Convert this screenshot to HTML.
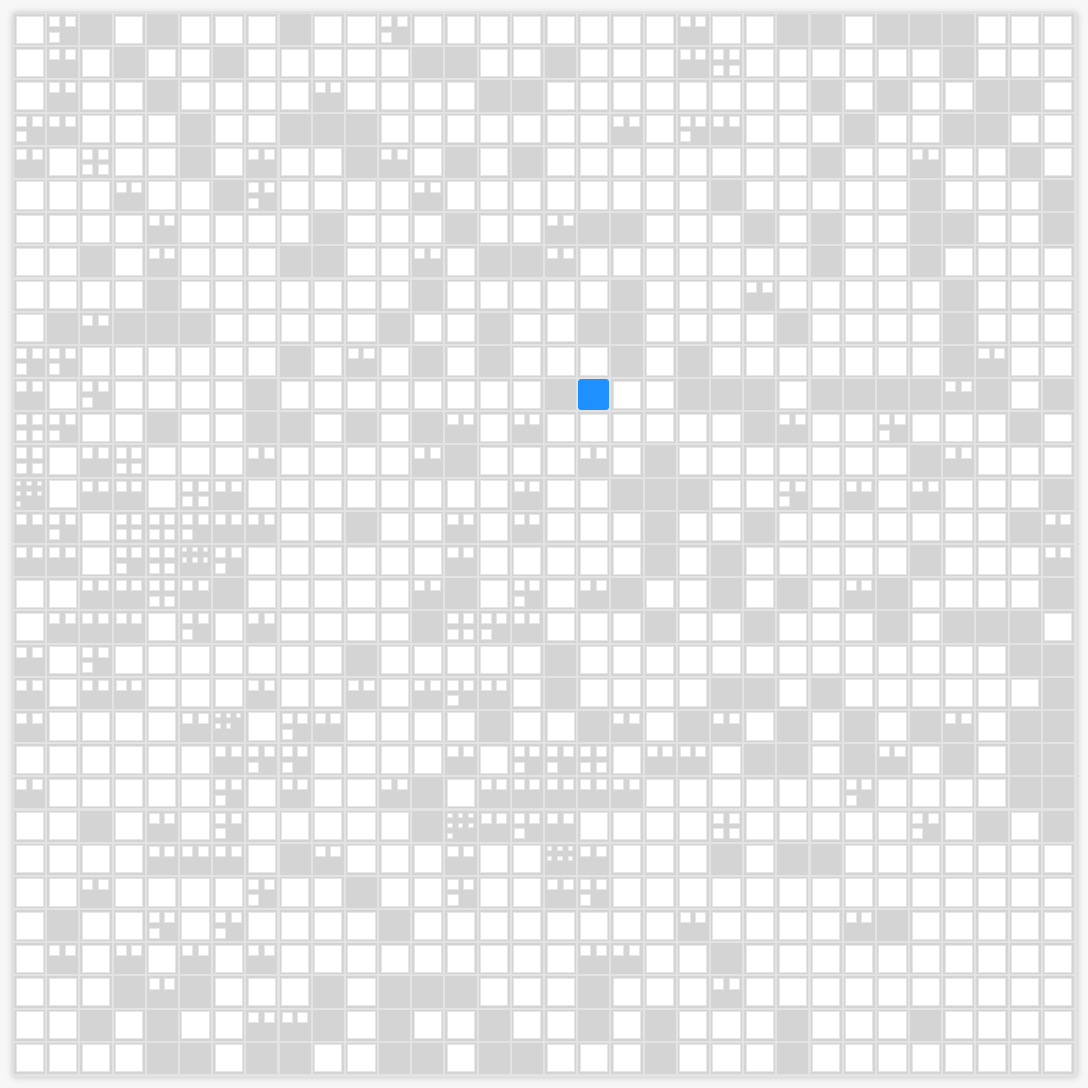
<!DOCTYPE html>
<html><head><meta charset="utf-8"><title>Grid</title>
<style>
html,body{margin:0;padding:0;background:#f7f7f7;width:1088px;height:1088px;overflow:hidden;font-family:"Liberation Sans",sans-serif}
#grid{position:absolute;left:13px;top:13px;width:1064px;height:1064px;background:#e3e3e3;box-shadow:0 0 7px rgba(0,0,0,0.22)}
.cell{position:absolute;background:#d4d4d4;box-sizing:border-box}
.w{position:absolute;background:#fff;box-sizing:border-box;border:1px solid #e6e6e6}
.blue{background:#1e90ff;border-radius:3px}
</style></head>
<body>
<div id="grid"></div>
<script>
const rows = [
"WbGWGWWWGWWbWWWWWWWWaWWGGWGGGWWW",
"WaWGWWGWWWWWGGWWGWWWacWWWWWWGWWW",
"WaWWGWWWWaWWWWGGWWWWWWWWGWGWWGGW",
"baWWWGWWGGGWWWWWWWaWbaWWWGWWGGWW",
"aWcWWGWaWWGaWGWGWWWWWWWWGWWaWWGW",
"WWWaWWGbWWWWaWWWWWWWWGWWWWWGWWWG",
"WWWWaWWWWGWWWGWWaGGWWWGWGWWGGWWG",
"WWGWaWWWGGWWaWGGaWWWWWWWGWWGWWWW",
"WWWWGWWWWWWWGWWWWWGWWWaWWWWWGWWW",
"WGaGGGWWWWWGWWGWWGGWWWWGWWWWGWWW",
"bbWWWWWWGWaWGWGWWWGWGWWWWWWWGaWW",
"aWbWWWWGWWWWWWWWGXWWGGGWGGGGaGWG",
"cbWWGWWGGWGWGaWaWWWWWWGaWWbWWWGW",
"cWacWWWaWWWWaGWWWaWGWWWWWWWGaWWW",
"dWaaWcaWWWWWWWWaWWGGGWWbWaWaWWWG",
"abWccbaaWWGWWaWaWWWGWWGWWWWWWWGa",
"aaWbcebWWWWWWaWWWWWGWGWWWWWGWWWa",
"WWaacaGWWWWWaGWbWaGWWGWGWaGWWWWG",
"WaaaWbWaWWWWGcbaWWWGWWGWWWGWGGGW",
"aWbWWWWWWWGWWWWWGWWWWWWWWWWWWWGG",
"aWaaWWWaWWaWabaWGWWWWGGWGWWWWWWG",
"aWWWWafWbaWWWWGWWGaWGaWGWGWGaWGG",
"WWWWWWabbWWWWaWbbcWaaWGGWGaWGWGG",
"aWWWWWbWaWWaGWaaaaaWWWWWWbWWWWGG",
"WWGWaWbWWWWWGdabaWWWWcWWWWWbWGWG",
"WWWWaaaWGaWWWaWWeaWWWGWGGWWWWWWW",
"WWaWWWWbWWGWWbWWabWWWWWWWWWWWWWW",
"WGWWbWbWWWWGWWWWWWWWaWWWWaGWWWWW",
"WaWaWaWaWWWWWWWWWaaWWGWWWWWWWWWW",
"WWWGaGWWWGWGGGWWWGWWWaWWWWWWWWWW",
"WWGWGWWaaGWGWWGWWGWGWWWGWWWGWWWW",
"WWWWGGWGGWWGGWGGWWWGWWWGWWWWWWWW"
];
const subPatterns = {a:[2,"1100"],b:[2,"1110"],c:[2,"1111"],d:[3,"111111100"],e:[3,"111111000"],f:[3,"111110000"]};
const grid = document.getElementById('grid');
const N = 32, pitch = 1062/32, off = 1;
for (let r = 0; r < N; r++) {
  for (let c = 0; c < N; c++) {
    const t = rows[r][c];
    const x = off + c*pitch, y = off + r*pitch, s = pitch - 2;
    const cell = document.createElement('div');
    cell.className = 'cell';
    cell.style.left = x.toFixed(2)+'px'; cell.style.top = y.toFixed(2)+'px';
    cell.style.width = s.toFixed(2)+'px'; cell.style.height = s.toFixed(2)+'px';
    
    
    if (t === 'X') {
      cell.classList.add('blue');
      
    } else if (t === 'W') {
      const w = document.createElement('div');
      w.className = 'w';
      w.style.left = '1.5px'; w.style.top = '1.5px';
      w.style.width = (s-3).toFixed(2)+'px'; w.style.height = (s-3).toFixed(2)+'px';
      
      
      cell.appendChild(w);
    } else if (subPatterns[t]) {
      const [n, mask] = subPatterns[t];
      const q = s / n;
      const inset = n === 2 ? 2 : 2;
      const size = n === 2 ? q - 4.5 : q - 5;
      for (let i = 0; i < n*n; i++) {
        if (mask[i] !== '1') continue;
        const sq = document.createElement('div');
        sq.className = 'w';
        sq.style.left = ((i % n)*q + inset).toFixed(2)+'px';
        sq.style.top = (Math.floor(i / n)*q + inset).toFixed(2)+'px';
        sq.style.width = size.toFixed(2)+'px'; sq.style.height = size.toFixed(2)+'px';
        
        
        cell.appendChild(sq);
      }
    }
    grid.appendChild(cell);
  }
}
</script>
</body></html>
